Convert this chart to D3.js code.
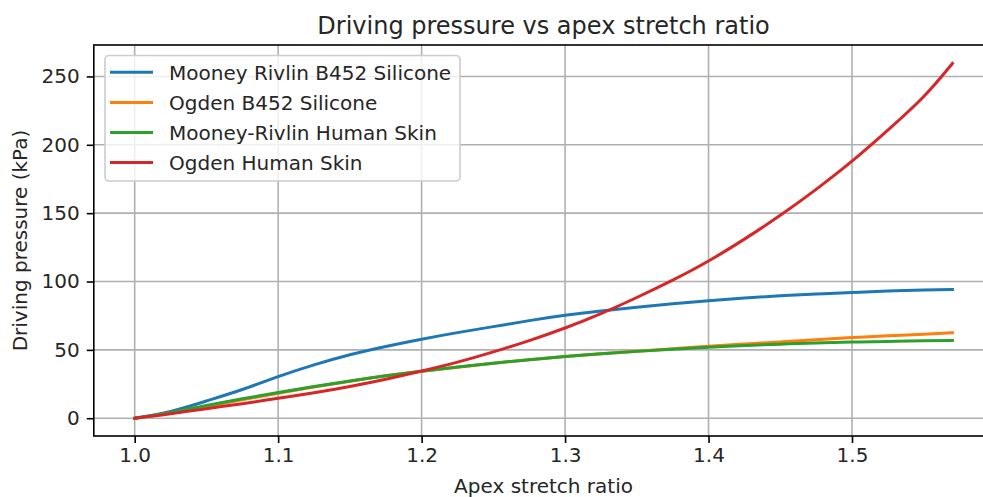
<!DOCTYPE html>
<html>
<head>
<meta charset="utf-8">
<script src="https://cdn.jsdelivr.net/npm/d3@7"></script>
<style>
  html, body { margin: 0; padding: 0; background: #fff; }
  svg { display: block; font-family: "DejaVu Sans", sans-serif; }
</style>
</head>
<body>
<svg id="chart" width="983" height="497"></svg>
<script>
// Apex stretch ratio samples
const stretch = [1.0, 1.025, 1.05, 1.075, 1.1, 1.125, 1.15, 1.175, 1.2, 1.225, 1.25, 1.275,
                 1.3, 1.325, 1.35, 1.375, 1.4, 1.425, 1.45, 1.475, 1.5, 1.525, 1.55, 1.57];

// Driving pressure (kPa) for each material model
const mooneyRivlinSilicone = [0, 5, 12.6, 21, 30.4, 39, 46.4, 52.5, 57.8, 62.6, 67, 71.4,
                              75.3, 78.5, 81.2, 83.7, 86, 87.9, 89.5, 90.8, 92, 93, 93.8, 94.2];
const ogdenSilicone = [0, 3.8, 8.5, 13.5, 18.3, 22.8, 27, 31, 34.3, 37.3, 40.2, 42.8,
                       45.2, 47.2, 49, 50.8, 52.7, 54.3, 55.8, 57.4, 59, 60.3, 61.5, 62.5];
const mooneyRivlinSkin = [0, 4.2, 9.3, 14.2, 18.8, 23.2, 27.3, 31, 34.4, 37.4, 40.2, 42.8,
                          45.2, 47.2, 48.9, 50.5, 52, 53.2, 54.2, 55, 55.7, 56.2, 56.6, 56.9];
const ogdenSkin = [0, 3.2, 7, 10.6, 14.6, 18.6, 23.2, 28.5, 34.5, 41, 48.5, 56.8,
                   66, 76.5, 88.3, 101, 115, 131, 148.4, 167.4, 188, 210.7, 235.3, 259.5];

const seriesNames = ["Mooney Rivlin B452 Silicone", "Ogden B452 Silicone",
                     "Mooney-Rivlin Human Skin", "Ogden Human Skin"];
const seriesValues = [mooneyRivlinSilicone, ogdenSilicone, mooneyRivlinSkin, ogdenSkin];
const seriesColors = ["#1f77b4", "#ff7f0e", "#2ca02c", "#d62728"];

const xTicks = [1.0, 1.1, 1.2, 1.3, 1.4, 1.5];
const yTicks = [0, 50, 100, 150, 200, 250];

const svg = d3.select("#chart");
const plot = { left: 93.8, right: 993.3, top: 45, bottom: 436 };

const xMin = d3.min(stretch), xMax = d3.max(stretch);
const xPad = (xMax - xMin) * 0.05;
const yMax = 260;
const yPad = yMax * 0.05;

const x = d3.scaleLinear().domain([xMin - xPad, xMax + xPad]).range([plot.left, plot.right]);
const y = d3.scaleLinear().domain([-yPad, yMax + yPad]).range([plot.bottom, plot.top]);

// grid
const grid = svg.append("g").attr("stroke", "#b0b0b0").attr("stroke-width", 1.6);
xTicks.forEach(t => grid.append("line")
  .attr("x1", x(t)).attr("x2", x(t)).attr("y1", plot.top).attr("y2", plot.bottom));
yTicks.forEach(t => grid.append("line")
  .attr("x1", plot.left).attr("x2", plot.right).attr("y1", y(t)).attr("y2", y(t)));

// curves
const line = d3.line().x(d => x(d[0])).y(d => y(d[1])).curve(d3.curveNatural);
seriesValues.forEach((vals, i) => {
  svg.append("path")
    .datum(stretch.map((s, j) => [s, vals[j]]))
    .attr("fill", "none")
    .attr("stroke", seriesColors[i])
    .attr("stroke-width", 3)
    .attr("stroke-linecap", "square")
    .attr("d", line);
});

// axes
const xAxis = d3.axisBottom(x).tickValues(xTicks).tickFormat(d3.format(".1f"))
  .tickSizeInner(7).tickSizeOuter(0).tickPadding(5);
const yAxis = d3.axisLeft(y).tickValues(yTicks).tickFormat(d3.format("d"))
  .tickSizeInner(7).tickSizeOuter(0).tickPadding(7);

const gx = svg.append("g").attr("transform", `translate(0,${plot.bottom})`).call(xAxis);
const gy = svg.append("g").attr("transform", `translate(${plot.left},0)`).call(yAxis);
[gx, gy].forEach(g => {
  g.select(".domain").remove();
  g.selectAll(".tick line").attr("stroke", "#000").attr("stroke-width", 1.6);
  g.selectAll(".tick text").attr("fill", "#262626").attr("font-size", 20)
    .attr("font-family", "DejaVu Sans, sans-serif");
});

// spines
svg.append("rect")
  .attr("x", plot.left).attr("y", plot.top)
  .attr("width", plot.right - plot.left).attr("height", plot.bottom - plot.top)
  .attr("fill", "none").attr("stroke", "#000").attr("stroke-width", 1.6);

// title and axis labels
svg.append("text").attr("x", (plot.left + plot.right) / 2).attr("y", 34)
  .attr("text-anchor", "middle").attr("font-size", 24).attr("fill", "#262626")
  .text("Driving pressure vs apex stretch ratio");
svg.append("text").attr("x", (plot.left + plot.right) / 2).attr("y", 493)
  .attr("text-anchor", "middle").attr("font-size", 20).attr("fill", "#262626")
  .text("Apex stretch ratio");
svg.append("text")
  .attr("transform", `translate(27,${(plot.top + plot.bottom) / 2}) rotate(-90)`)
  .attr("text-anchor", "middle").attr("font-size", 20).attr("fill", "#262626")
  .text("Driving pressure (kPa)");

// legend
const legend = svg.append("g");
legend.append("rect")
  .attr("x", 105).attr("y", 55.5).attr("width", 355).attr("height", 125.5)
  .attr("rx", 4).attr("ry", 4)
  .attr("fill", "#fff").attr("fill-opacity", 0.8)
  .attr("stroke", "#cccccc").attr("stroke-width", 1.6);
seriesNames.forEach((name, i) => {
  const cy = 72.3 + i * 30.1;
  legend.append("line")
    .attr("x1", 110).attr("x2", 153).attr("y1", cy).attr("y2", cy)
    .attr("stroke", seriesColors[i]).attr("stroke-width", 3);
  legend.append("text")
    .attr("x", 169).attr("y", cy + 7.2)
    .attr("font-size", 20).attr("fill", "#262626")
    .text(name);
});
</script>
</body>
</html>
